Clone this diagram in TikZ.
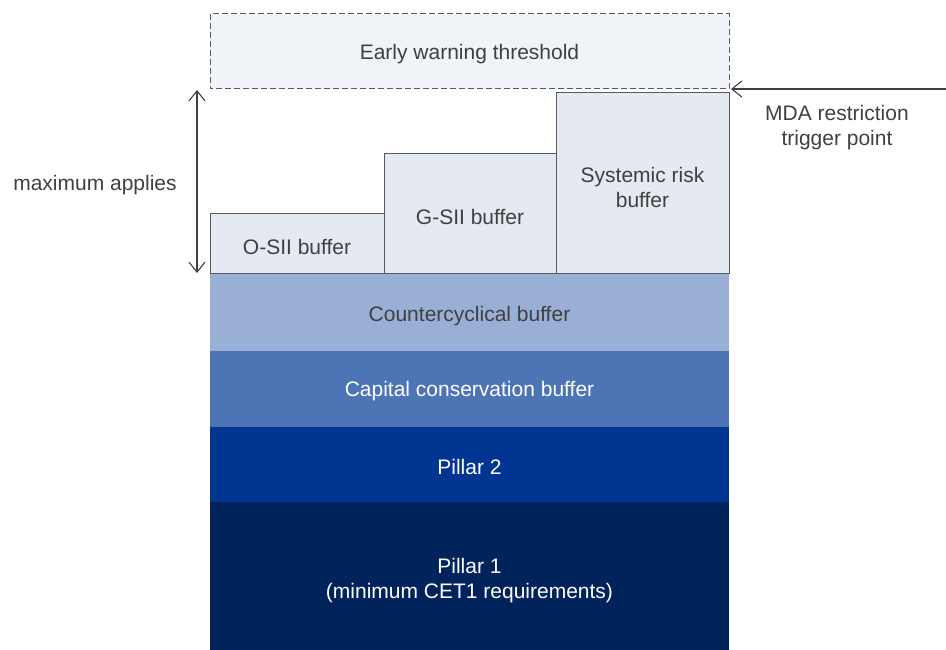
\documentclass[tikz,border=0pt]{standalone}
\usepackage{fontspec}
\setmainfont{Liberation Sans}
\usetikzlibrary{arrows.meta}
\definecolor{ewfill}{HTML}{F0F3F8}
\definecolor{buf}{HTML}{E4E9F2}
\definecolor{ccbcol}{HTML}{99AFD6}
\definecolor{capcol}{HTML}{4D74B5}
\definecolor{ptwocol}{HTML}{003591}
\definecolor{ponecol}{HTML}{00235B}
\definecolor{txt}{HTML}{404040}
\definecolor{edgecol}{HTML}{595959}
\begin{document}
\begin{tikzpicture}[x=1pt,y=-1pt,
  bufbox/.style={draw=edgecol,line width=1pt,fill=buf},
  band/.style={text=white,font=\fontsize{21}{25}\selectfont,align=center,inner sep=0pt},
  lbl/.style={text=txt,font=\fontsize{21}{25}\selectfont,align=center,inner sep=0pt},
  arr/.style={draw=txt,line width=1.1pt,{Straight Barb[length=10pt,width=16pt]}-{Straight Barb[length=10pt,width=16pt]}}
]
\useasboundingbox (0,0) rectangle (946,650);
% bands
\fill[ponecol] (210,502) rectangle (729,650);
\fill[ptwocol] (210,427) rectangle (729,502);
\fill[capcol] (210,351) rectangle (729,427);
\fill[ccbcol] (210,274) rectangle (729,351);
\node[band] (p1) at (469.5,581) {Pillar 1\\(minimum CET1 requirements)};
\node[band] (p2) at (469.5,467) {Pillar 2};
\node[band] (ccbuf) at (469.5,391.5) {Capital conservation buffer};
\node[lbl] (cyc) at (469.5,316) {Countercyclical buffer};
% buffers
\draw[bufbox] (210,214) rectangle (384,273);
\draw[bufbox] (384,154) rectangle (556,273);
\draw[bufbox] (556,93) rectangle (729,273);
\node[lbl] (osii) at (297,246.5) {O-SII buffer};
\node[lbl] (gsii) at (470,216.5) {G-SII buffer};
\node[lbl] (srb) at (642.5,187) {Systemic risk\\buffer};
% early warning
\draw[edgecol,line width=1pt,fill=ewfill,dash pattern=on 6pt off 3pt] (210,14) rectangle (729,89);
\node[lbl] (ew) at (469.5,54) {Early warning threshold};
% arrows
\coordinate (atop) at (197,90);
\coordinate (abot) at (197,273);
\draw[arr] (atop) -- (abot);
\node[lbl,anchor=center] (max) at (95,185) {maximum applies};
\coordinate (mstart) at (946,89);
\coordinate (mend) at (731,89);
\draw[draw=txt,line width=1.1pt,-{Straight Barb[length=10pt,width=16pt]}] (mstart) -- (mend);
\node[lbl] (mda) at (837,127.5) {MDA restriction\\trigger point};
\end{tikzpicture}
\end{document}
